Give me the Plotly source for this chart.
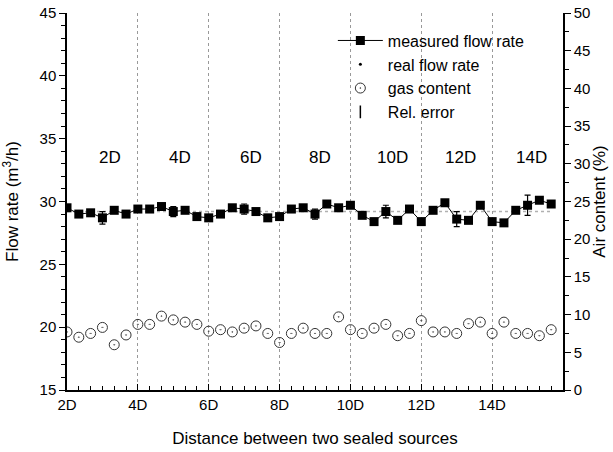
import plotly.graph_objects as go

# ---- data ----
n_points = 42
x_vals = [2 + i / 3 for i in range(n_points)]

flow_rate = [29.5, 29.0, 29.1, 28.7, 29.3, 29.0,
             29.4, 29.4, 29.6, 29.2, 29.3, 28.8,
             28.7, 29.0, 29.5, 29.4, 29.2, 28.7,
             28.8, 29.4, 29.5, 29.0, 29.8, 29.5,
             29.7, 28.9, 28.4, 29.2, 28.5, 29.4,
             28.4, 29.3, 29.9, 28.6, 28.5, 29.7,
             28.4, 28.3, 29.3, 29.7, 30.1, 29.8]

rel_error = [0, 0, 0, 0.5, 0, 0,
             0, 0, 0, 0.4, 0, 0,
             0, 0, 0, 0.4, 0, 0,
             0, 0, 0, 0.4, 0, 0,
             0, 0, 0, 0.5, 0, 0,
             0, 0, 0, 0.6, 0, 0,
             0, 0, 0, 0.8, 0, 0]

real_flow_x = [2, 15.67]
real_flow = [29.2, 29.2]

gas_content = [7.7, 7.0, 7.5, 8.3, 6.0, 7.3,
               8.7, 8.7, 9.8, 9.3, 9.0, 8.7,
               7.8, 8.0, 7.7, 8.2, 8.5, 7.5,
               6.3, 7.5, 8.2, 7.5, 7.5, 9.7,
               8.0, 7.5, 8.2, 8.7, 7.2, 7.5,
               9.2, 7.7, 7.7, 7.5, 8.8, 9.0,
               7.5, 9.0, 7.5, 7.5, 7.2, 8.0]

tick_vals = [2, 4, 6, 8, 10, 12, 14]
tick_text = ["2D", "4D", "6D", "8D", "10D", "12D", "14D"]

section_labels = ["2D", "4D", "6D", "8D", "10D", "12D", "14D"]
section_x = [3.2, 5.2, 7.2, 9.15, 11.2, 13.1, 15.1]
section_y = 33.5

FONT = "Liberation Sans, Arial, sans-serif"

fig = go.Figure()

# real flow rate line (gray dotted)
fig.add_trace(go.Scatter(
    x=real_flow_x, y=real_flow, mode="lines",
    line=dict(color="#b0b0b0", width=1.5, dash="dot"),
    showlegend=False, hoverinfo="skip"))

# measured flow rate
fig.add_trace(go.Scatter(
    x=x_vals, y=flow_rate, mode="lines+markers", name="measured flow rate",
    line=dict(color="black", width=1),
    marker=dict(symbol="square", size=9, color="black"),
    error_y=dict(type="data", array=rel_error, visible=True,
                 color="black", thickness=1.2, width=3)))

# legend entry: real flow rate
fig.add_trace(go.Scatter(
    x=[None], y=[None], mode="markers", name="real flow rate",
    marker=dict(symbol="circle", size=3, color="black")))

# gas content
fig.add_trace(go.Scatter(
    x=x_vals, y=gas_content, mode="markers", name="gas content",
    marker=dict(symbol="circle-open-dot", size=10, color="#333333",
                line=dict(width=1)),
    yaxis="y2"))

# legend entry: rel. error
fig.add_trace(go.Scatter(
    x=[None], y=[None], mode="markers", name="Rel. error",
    marker=dict(symbol="line-ns-open", size=9, color="black",
                line=dict(width=1.5, color="black"))))

for lab, sx in zip(section_labels, section_x):
    fig.add_annotation(x=sx, y=section_y, text=lab, showarrow=False,
                       font=dict(size=17, color="black", family=FONT),
                       xref="x", yref="y")

fig.update_layout(
    width=613, height=452,
    margin=dict(l=67, r=50, t=13, b=62, autoexpand=False),
    paper_bgcolor="white", plot_bgcolor="white",
    font=dict(family=FONT, size=15, color="black"),
    showlegend=True,
    legend=dict(x=0.536, y=0.972, xanchor="left", yanchor="top",
                bgcolor="rgba(0,0,0,0)", font=dict(size=16),
                tracegroupgap=0, itemwidth=45),
    xaxis=dict(range=[2, 16], tickvals=tick_vals, ticktext=tick_text,
               automargin=False,
               showline=True, linecolor="black", linewidth=1.5,
               ticks="inside", ticklen=6, tickwidth=1.2, tickcolor="black",
               minor=dict(dtick=1/3, tick0=2, ticks="inside", ticklen=4,
                          tickcolor="black", showgrid=False),
               showgrid=True, gridcolor="#999999", griddash="dot", gridwidth=1,
               zeroline=False,
               title=dict(text="Distance between two sealed sources",
                          font=dict(size=17), standoff=20),
               tickfont=dict(size=15)),
    yaxis=dict(range=[15, 45], dtick=5, tick0=15, automargin=False,
               showline=True, linecolor="black", linewidth=1.5,
               ticks="outside", ticklen=6, tickwidth=1.2, tickcolor="black",
               minor=dict(dtick=1, ticks="outside", ticklen=4, tickcolor="black",
                          showgrid=False),
               showgrid=False, zeroline=False,
               title=dict(text="Flow rate (m<sup>3</sup>/h)", font=dict(size=17),
                          standoff=18),
               tickfont=dict(size=15)),
    yaxis2=dict(range=[0, 50], dtick=5, tick0=0, overlaying="y", side="right",
                automargin=False,
                showline=True, linecolor="black", linewidth=1.5,
                ticks="outside", ticklen=6, tickwidth=1.2, tickcolor="black",
                minor=dict(dtick=2.5, ticks="outside", ticklen=4,
                           tickcolor="black", showgrid=False),
                showgrid=False, zeroline=False,
                title=dict(text="Air content (%)", font=dict(size=17),
                           standoff=2),
                tickfont=dict(size=15)),
)

fig.write_html("out.html",
               config={"displayModeBar": False},
               post_script="document.body.style.margin='0';"
                           "document.body.style.overflow='hidden';")
